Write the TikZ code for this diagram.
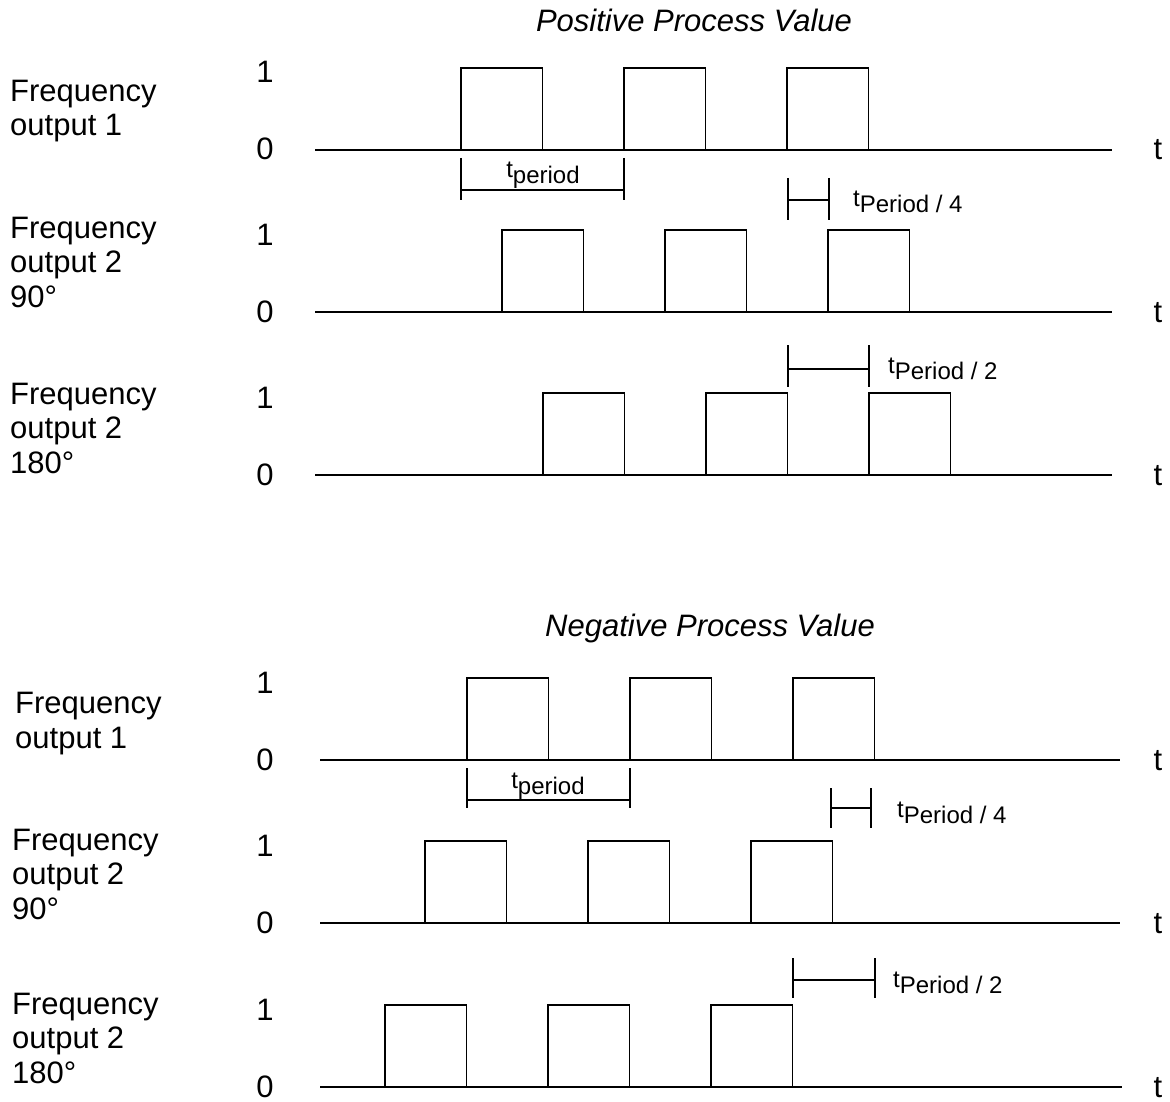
\documentclass[tikz,border=0pt]{standalone}
\usepackage{fontspec}
\setmainfont{Liberation Sans}
\newcommand{\tsub}[1]{{\fontsize{24}{24}\selectfont t}\raisebox{-6pt}{\fontsize{24}{24}\selectfont #1}}

\begin{document}
\begin{tikzpicture}[x=1pt, y=-1pt,
      sig/.style={line width=1.2pt, draw=black},
      dimline/.style={line width=1.1pt, draw=black},
      lvl/.style={font=\fontsize{31}{34}\selectfont, anchor=base, inner sep=0pt},
      rowlbl/.style={font=\fontsize{31}{34.5}\selectfont, align=left, anchor=base west, inner sep=0pt},
      ttl/.style={font=\fontsize{31}{34}\selectfont\itshape, anchor=base, inner sep=0pt},
      dimlbl/.style={inner sep=0pt}
    ]
    \useasboundingbox (0,0) rectangle (1170,1102);

    % titles
    \node[ttl] (pos) at (694,32) {Positive Process Value};
    \node[ttl] (neg) at (710,636) {Negative Process Value};

    % signal rows: baseline y / line start / line end / first rising edge / name
    \foreach \y/\xs/\xe/\p/\n in {150/315/1112/461/pa, 312/315/1112/502/pb, 475/315/1112/543/pc,
                                  760/320/1120/467/na, 923/320/1120/425/nb, 1087/320/1122/385/nc} {
      \draw[sig] (\xs,\y) -- (\xe,\y);
      \foreach \k in {0,1,2} {
        \draw[sig] (\p+\k*163,\y) -- ++(0,-82) -- ++(81.5,0) -- ++(0,82);
      }
      \node[lvl] (\n one) at (265,\y-67) {1};
      \node[lvl] (\n zero) at (265,\y+10) {0};
      \node[lvl] (\n t) at (1158,\y+10) {t};
    }

    % row labels (anchored at the last line)
    \node[rowlbl] (lpa) at (10,136) {Frequency\\output 1};
    \node[rowlbl] (lpb) at (10,307) {Frequency\\output 2\\90°};
    \node[rowlbl] (lpc) at (10,473) {Frequency\\output 2\\180°};
    \node[rowlbl] (lna) at (15,748) {Frequency\\output 1};
    \node[rowlbl] (lnb) at (12,919) {Frequency\\output 2\\90°};
    \node[rowlbl] (lnc) at (12,1083) {Frequency\\output 2\\180°};

    % period brackets: left / right / top / bottom / bar
    \foreach \xl/\xr/\yt/\yb/\yh in {461/624/158/200/190, 788/829/178/220/200, 788/869/345/387/369,
                                     467/630/768/808/800, 831/871/788/828/808, 793/875/958/998/980} {
      \draw[dimline] (\xl,\yt) -- (\xl,\yb) (\xr,\yt) -- (\xr,\yb) (\xl,\yh) -- (\xr,\yh);
    }
    \node[dimlbl, anchor=base] (tp1) at (543,178) {\tsub{period}};
    \node[dimlbl, anchor=base west] (tq1) at (853,207) {\tsub{Period / 4}};
    \node[dimlbl, anchor=base west] (th1) at (888,373) {\tsub{Period / 2}};
    \node[dimlbl, anchor=base] (tp2) at (548,788) {\tsub{period}};
    \node[dimlbl, anchor=base west] (tq2) at (897,817) {\tsub{Period / 4}};
    \node[dimlbl, anchor=base west] (th2) at (893,987) {\tsub{Period / 2}};
  \end{tikzpicture}
\end{document}
